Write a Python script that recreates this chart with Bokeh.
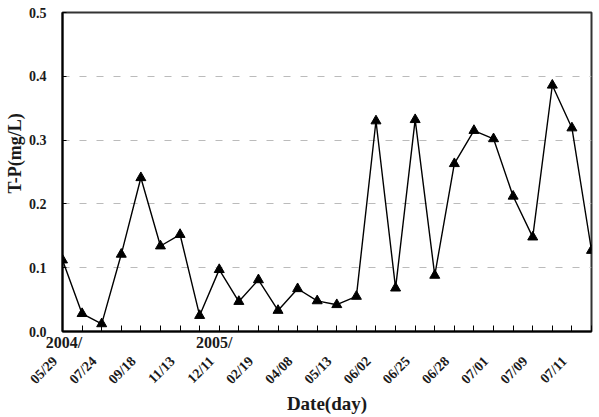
import math
from bokeh.plotting import figure
from bokeh.models import (FixedTicker, Range1d, PrintfTickFormatter,
                          LinearAxis, Title)
from bokeh.embed import file_html
from bokeh.resources import INLINE

# Total phosphorus concentration per sampling event (mg/L)
tp_values = [0.112, 0.028, 0.012, 0.121, 0.241, 0.134, 0.152, 0.025,
             0.097, 0.047, 0.081, 0.033, 0.067, 0.048, 0.042, 0.055,
             0.330, 0.068, 0.332, 0.088, 0.263, 0.315, 0.302, 0.212,
             0.148, 0.386, 0.319, 0.127]
sample_index = list(range(len(tp_values)))

# Date labels shown on every second sampling event
date_labels = ["05/29", "07/24", "09/18", "11/13", "12/11", "02/19", "04/08",
               "05/13", "06/02", "06/25", "06/28", "07/01", "07/09", "07/11"]
label_index = list(range(0, len(tp_values), 2))

# Year markers under the axis
year_labels = ["2004/", "2005/"]
year_pos = [0.08, 7.75]

y_ticks = [0.0, 0.1, 0.2, 0.3, 0.4, 0.5]

SERIF = "Liberation Serif"
TXT = "#1a1a1a"
PAD = "\u00a0" * 3   # nudges the rotated date text down-left of its tick
n = len(tp_values)

p = figure(width=599, height=417, output_backend="svg", toolbar_location=None,
           x_range=Range1d(0, n - 1), y_range=Range1d(0, 0.5),
           x_axis_location=None, y_axis_location=None,
           min_border_left=62, min_border_right=8, min_border_top=12,
           min_border_bottom=86)

p.line(sample_index, tp_values, line_color="black", line_width=1.4)
p.scatter(sample_index, tp_values, marker="triangle", size=10,
          fill_color="black", line_color="black")

# bottom axis with sampling ticks and year markers
year_axis = LinearAxis(
    ticker=FixedTicker(ticks=year_pos, minor_ticks=sample_index),
    major_label_overrides={v: s for v, s in zip(year_pos, year_labels)},
    major_label_standoff=2,
    major_label_text_font=SERIF, major_label_text_font_style="bold",
    major_label_text_font_size="16px", major_label_text_color=TXT,
    major_tick_in=0, major_tick_out=0,
    minor_tick_in=6, minor_tick_out=0,
    axis_line_width=2,
)
p.add_layout(year_axis, "below")

# rotated date labels
date_axis = LinearAxis(
    ticker=FixedTicker(ticks=label_index),
    major_label_overrides={i: s + PAD for i, s in zip(label_index, date_labels)},
    major_label_orientation=math.pi / 4,
    major_label_standoff=-8,
    major_label_text_font=SERIF, major_label_text_font_style="bold",
    major_label_text_font_size="14px", major_label_text_color=TXT,
    major_tick_line_color=None, minor_tick_line_color=None,
    axis_line_color=None,
    axis_label="Date(day)",
    axis_label_text_font=SERIF, axis_label_text_font_style="bold",
    axis_label_text_font_size="19px", axis_label_text_color=TXT,
    axis_label_standoff=-2,
)
p.add_layout(date_axis, "below")

# y axis
ya = LinearAxis(
    ticker=FixedTicker(ticks=y_ticks),
    formatter=PrintfTickFormatter(format="%.1f"),
    major_label_text_font=SERIF, major_label_text_font_style="bold",
    major_label_text_font_size="14px", major_label_text_color=TXT,
    major_label_standoff=16,
    major_tick_in=4, major_tick_out=0,
    minor_tick_line_color=None,
    axis_line_width=2,
)
p.add_layout(ya, "left")

p.add_layout(Title(text="T-P(mg/L)", align="left", offset=138,
                   text_font=SERIF, text_font_style="bold",
                   text_font_size="18px", text_color=TXT, standoff=2), "left")

p.ygrid.grid_line_color = "#bbbbbb"
p.ygrid.grid_line_dash = "7 10"
p.ygrid.grid_line_width = 1
p.ygrid.ticker = FixedTicker(ticks=y_ticks)
p.xgrid.grid_line_color = None

p.outline_line_color = "#333333"
p.outline_line_width = 2

open("out.html", "w").write(file_html(p, INLINE))
